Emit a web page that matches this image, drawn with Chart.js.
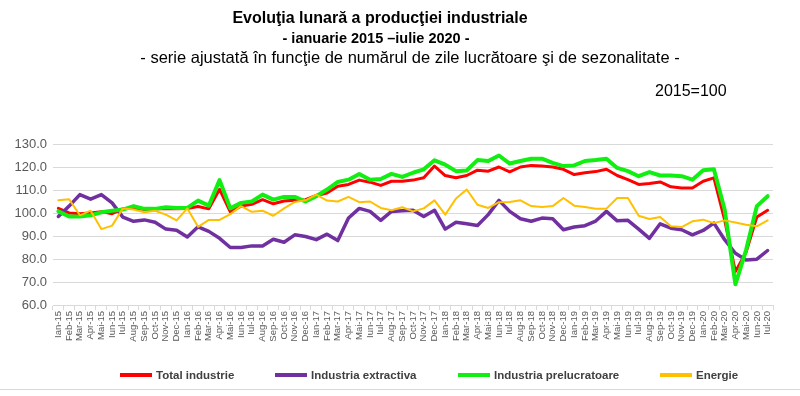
<!DOCTYPE html>
<html>
<head>
<meta charset="utf-8">
<script src="https://cdn.jsdelivr.net/npm/chart.js@4"></script>
<style>
  html, body { margin: 0; padding: 0; background: #fff; }
  #wrap { position: relative; width: 800px; height: 396px; overflow: hidden; font-family: "Liberation Sans", Arial, sans-serif; }
  #chart { position: absolute; left: 0; top: 0; }
  .t { position: absolute; left: 0; width: 800px; text-align: center; color: #000; white-space: nowrap; }
  #t1 { top: 9px; font-size: 16px; font-weight: bold; margin-left: -20px; }
  #t2 { top: 30px; font-size: 14.5px; font-weight: bold; margin-left: -24px; }
  #t3 { top: 48px; font-size: 16.5px; margin-left: 10px; }
  #base { position: absolute; left: 655px; top: 82px; font-size: 16px; color: #000; }
  .lg { position: absolute; top: 369px; font-size: 11.5px; font-weight: bold; color: #404040; display: flex; align-items: center; white-space: nowrap; }
  .lg span.ln { display: inline-block; width: 32px; height: 4px; margin-right: 4px; }
  #frame { position: absolute; left: 0; top: 389px; width: 800px; height: 1px; background: #d9d9d9; }
</style>
</head>
<body>
<div id="wrap">
  <canvas id="chart" width="800" height="396"></canvas>
  <div class="t" id="t1">Evoluţia lunară a producţiei industriale</div>
  <div class="t" id="t2">- ianuarie 2015 –iulie 2020 -</div>
  <div class="t" id="t3">- serie ajustată în funcţie de numărul de zile lucrătoare şi de sezonalitate -</div>
  <div id="base">2015=100</div>
  <div id="legend"></div>
  <div id="frame"></div>
</div>
<script>
// ── DATA ──
const months = ['Ian', 'Feb', 'Mar', 'Apr', 'Mai', 'Iun', 'Iul', 'Aug', 'Sep', 'Oct', 'Nov', 'Dec'];
const years = ['15', '16', '17', '18', '19', '20'];
const lastMonth = 7; // iulie 2020

const labels = [];
years.forEach((y, yi) => {
  const n = yi === years.length - 1 ? lastMonth : 12;
  for (let m = 0; m < n; m++) labels.push(months[m] + '-' + y);
});

const totalIndustrie = [
  102, 100, 99.7, 100, 100.6, 99.7, 101.8, 102.2, 101.5, 101.8, 102, 101.8,
  102, 102.8, 101.8, 110.3, 100.5, 103, 103.8, 105.8, 104, 105.2, 105.5, 105.8,
  107.6, 108.7, 111.6, 112.4, 114.3, 113.4, 112, 113.8, 113.8, 114.3, 115.3, 120.4,
  116.3, 115.3, 116.3, 118.6, 118.2, 120, 117.9, 120, 120.7, 120.4, 120, 119,
  116.7, 117.5, 118, 119, 116.3, 114.5, 112.4, 112.8, 113.5, 111.4, 110.9, 110.9,
  113.8, 115.3, 97, 74.5, 83, 98.3, 101.2
];
const industriaExtractiva = [
  98.5, 103, 108, 106, 108, 104.4, 98.2, 96.4, 97, 96, 93, 92.5,
  89.6, 94, 92, 89, 85, 85, 85.7, 85.7, 88.6, 87.3, 90.5, 89.8,
  88.4, 90.8, 88, 97.8, 102, 100.7, 96.8, 100.7, 101, 101.2, 98.5, 101.2,
  93, 96, 95.3, 94.6, 99.3, 105.5, 100.7, 97.5, 96.4, 97.8, 97.5, 92.7,
  93.9, 94.5, 96.5, 100.7, 96.6, 96.8, 93, 89, 95.3, 93.4, 92.7, 90.5,
  92.4, 95.6, 88.4, 82.5, 79.6, 79.9, 83.7
];
const industriaPrelucratoare = [
  100.7, 98.5, 98.5, 99, 100.3, 101, 101.5, 103, 101.8, 101.8, 102.5, 102.2,
  102.2, 105.4, 103.2, 114.3, 102, 104.4, 105, 108, 105.8, 107, 107, 105,
  107.3, 110.2, 113.5, 114.5, 117, 114.5, 114.8, 117, 115.7, 117.5, 119, 122.9,
  121, 118.2, 118.5, 123, 122.6, 125, 121.5, 122.6, 123.6, 123.6, 121.8, 120.4,
  120.7, 122.6, 123, 123.6, 119.6, 118.2, 116, 117.8, 116.3, 116.3, 116, 114.5,
  118.6, 119, 101.5, 69, 84, 103, 107.3
];
const energie = [
  105.5, 106, 99, 101, 93, 94.5, 102, 101.5, 100.3, 101, 99.3, 96.8,
  102, 94, 97, 97, 99.5, 103, 100.5, 101, 98.8, 102, 104.8, 105.5,
  108, 105.4, 105, 107, 104.7, 105, 102.2, 101.2, 102.5, 100.7, 102, 105.5,
  99.3, 106.3, 110.2, 103.6, 102.2, 104.7, 104.8, 105.5, 103, 102.6, 103, 106.5,
  103.2, 102.6, 101.8, 101.9, 106.5, 106.5, 98.8, 97.4, 98.3, 94.2, 93.9, 96.4,
  97.1, 95.6, 96.8, 95.9, 94.9, 94.2, 96.8
];

const seriesNames = ['Total industrie', 'Industria extractiva', 'Industria prelucratoare', 'Energie'];
const seriesData = [totalIndustrie, industriaExtractiva, industriaPrelucratoare, energie];
const seriesColors = ['#ff0000', '#7030a0', '#11ee11', '#ffc000'];
const seriesWidths = [3, 3.5, 4, 2];
const yTicks = [60, 70, 80, 90, 100, 110, 120, 130];

// ── CHART ──
Chart.defaults.font.family = '"Liberation Sans", Arial, sans-serif';
Chart.defaults.color = '#595959';

new Chart(document.getElementById('chart'), {
  type: 'line',
  data: {
    labels: labels,
    datasets: seriesNames.map((name, i) => ({
      label: name,
      data: seriesData[i],
      borderColor: seriesColors[i],
      backgroundColor: seriesColors[i],
      borderWidth: seriesWidths[i],
      pointRadius: 0,
      tension: 0,
      borderJoinStyle: 'round',
      borderCapStyle: 'round',
      order: seriesNames.length - i
    }))
  },
  options: {
    responsive: false,
    animation: false,
    layout: { padding: { top: 144, left: 0, right: 27, bottom: 51 } },
    plugins: { legend: { display: false }, tooltip: { enabled: false } },
    scales: {
      x: {
        offset: true,
        grid: { offset: true, drawOnChartArea: false, drawTicks: true, tickLength: 5, color: '#d9d9d9' },
        border: { color: '#d9d9d9' },
        ticks: { autoSkip: false, minRotation: 90, maxRotation: 90, padding: 1, font: { size: 9.5 }, color: '#595959' },
        afterFit: s => { s.height = 40; }
      },
      y: {
        min: yTicks[0],
        max: yTicks[yTicks.length - 1],
        afterBuildTicks: s => { s.ticks = yTicks.map(v => ({ value: v })); },
        ticks: { callback: v => v.toFixed(1), padding: 6, font: { size: 13 }, color: '#595959' },
        grid: { color: '#d9d9d9', drawTicks: false },
        border: { display: false },
        afterFit: s => { s.width = 53; }
      }
    }
  }
});

// ── LEGEND ──
const legendX = [120, 275, 458, 660];
const legend = document.getElementById('legend');
seriesNames.forEach((name, i) => {
  const item = document.createElement('div');
  item.className = 'lg';
  item.style.left = legendX[i] + 'px';
  item.innerHTML = `<span class="ln" style="background:${seriesColors[i]}"></span>${name}`;
  legend.appendChild(item);
});
</script>
</body>
</html>
